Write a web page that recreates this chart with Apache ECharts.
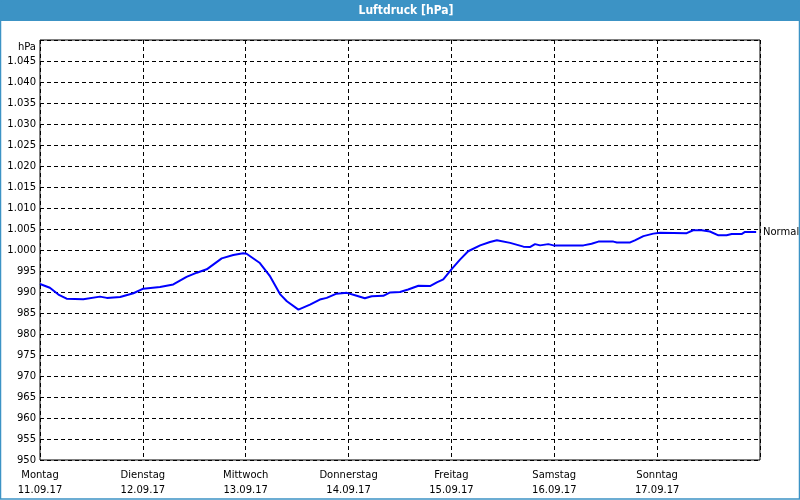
<!DOCTYPE html>
<html>
<head>
<meta charset="utf-8">
<script src="https://cdn.jsdelivr.net/npm/echarts@6/dist/echarts.min.js"></script>
<style>
html,body{margin:0;padding:0;background:#fff;}
#c{width:800px;height:500px;}
</style>
</head>
<body>
<div id="c"></div>
<script>
const titleText = 'Luftdruck [hPa]';
const dayNames = ['Montag','Dienstag','Mittwoch','Donnerstag','Freitag','Samstag','Sonntag'];
const dayDates = ['11.09.17','12.09.17','13.09.17','14.09.17','15.09.17','16.09.17','17.09.17'];
const normalLabel = 'Normal';
const normalValue = 1004.2;
// hours since Monday 00:00
const hours = [0,2.3,4.3,6.2,10.1,14,15.6,18.7,21.8,24.1,28,31.1,34.2,36.6,38.9,42.4,45.1,47.4,48.2,51.3,53.7,56,57.6,60.3,63,65.3,66.9,69.2,71.6,73.9,75.8,77.4,80.1,81.7,84,85.9,88.3,91,92.6,94.1,96.1,98,99.9,102.7,105,106.6,109.7,112.8,114.3,115.5,116.7,118.6,119.8,126.8,128.7,130.3,133.8,134.6,137.7,138.8,140.8,143.1,144.7,150.9,152.4,154.4,156.3,158.3,160.2,161.4,163.7,164.5,167.1];
const pressure = [991.9,991.0,989.4,988.4,988.3,988.9,988.6,988.8,989.7,990.8,991.2,991.8,993.6,994.6,995.4,998.0,998.8,999.2,999.1,996.9,993.7,989.5,987.8,985.8,987.0,988.2,988.6,989.6,989.8,989.1,988.5,989.0,989.1,989.9,990.0,990.6,991.5,991.4,992.3,993.0,995.5,997.7,999.7,1001.1,1001.9,1002.3,1001.7,1000.8,1000.7,1001.4,1001.1,1001.4,1001.1,1001.1,1001.5,1002.0,1002.0,1001.8,1001.8,1002.3,1003.3,1003.9,1004.1,1004.0,1004.7,1004.7,1004.4,1003.5,1003.5,1003.8,1003.8,1004.3,1004.3];

const chart = echarts.init(document.getElementById('c'), null, {renderer:'canvas'});
const font = 'DejaVu Sans';
const dash = {color:'#000', width:1, type:[4,3]};
chart.setOption({
  animation:false,
  backgroundColor:'#fff',
  textStyle:{fontFamily:font},
  graphic:[
    {type:'rect', z:100, shape:{x:0,y:0,width:800,height:21}, style:{fill:'#3c93c5'}},
    {type:'text', z:101, x:406, y:11, style:{text:titleText, fill:'#fff', font:'bold 12px "DejaVu Sans Condensed", "DejaVu Sans"', textAlign:'center', textVerticalAlign:'middle'}},
    {type:'rect', z:100, shape:{x:0.5,y:0.5,width:799,height:498.5}, style:{fill:'none', stroke:'#3c93c5', lineWidth:1.5}}
  ],
  grid:{left:40,right:40,top:40,bottom:40,show:true,borderColor:'#000',borderWidth:1,backgroundColor:'transparent'},
  xAxis:{
    type:'value', min:0, max:168, interval:24,
    axisLine:{show:false}, axisTick:{show:false},
    splitLine:{show:true, lineStyle:dash},
    axisLabel:{
      color:'#000', fontSize:10, fontFamily:font, margin:8, lineHeight:15,
      showMaxLabel:false,
      formatter:function(v){const i=Math.round(v/24); return i<dayNames.length ? dayNames[i]+'\n'+dayDates[i] : '';}
    }
  },
  yAxis:{
    type:'value', min:950, max:1050, interval:5,
    name:'hPa', nameLocation:'end', nameGap:-7,
    nameTextStyle:{color:'#000', fontSize:10, fontFamily:font, align:'right', verticalAlign:'middle', padding:[0,4,0,0]},
    axisLine:{show:false}, axisTick:{show:false},
    splitLine:{show:true, lineStyle:dash},
    axisLabel:{
      color:'#000', fontSize:10, fontFamily:font, margin:4, showMaxLabel:false,
      formatter:function(v){return v>=1000 ? '1.'+String(v-1000).padStart(3,'0') : String(v);}
    }
  },
  series:[{
    type:'line', data:hours.map((h,i)=>[h,pressure[i]]),
    showSymbol:false, symbol:'none',
    lineStyle:{color:'#0000ff', width:2},
    markLine:{
      silent:true, symbol:['none','none'],
      lineStyle:{color:'rgba(0,0,0,0)', width:1, type:'solid'},
      label:{show:true, position:'end', formatter:normalLabel, color:'#000', fontSize:10, fontFamily:font, distance:3},
      data:[{yAxis:normalValue}]
    }
  }]
});
</script>
</body>
</html>
